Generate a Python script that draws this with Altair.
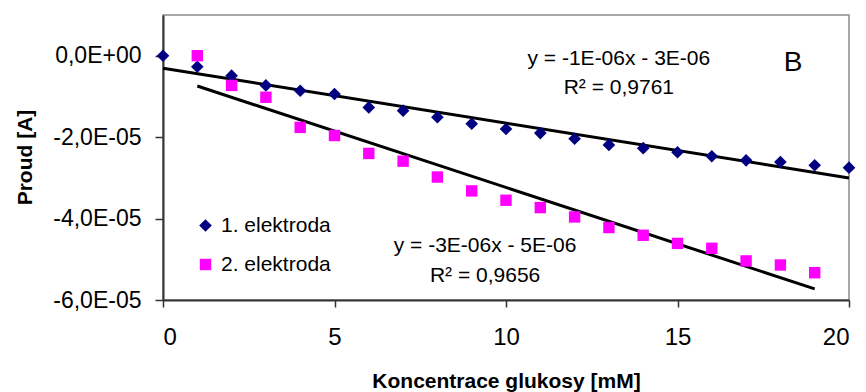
import altair as alt
import pandas as pd

# ---- data ----
conc_1 = list(range(0, 21))
proud_1 = [0.0, -2.7e-6, -4.9e-6, -7.3e-6, -8.6e-6, -9.4e-6, -12.7e-6, -13.5e-6,
           -15.1e-6, -16.7e-6, -18.0e-6, -19.0e-6, -20.4e-6, -21.9e-6, -22.7e-6,
           -23.7e-6, -24.7e-6, -25.7e-6, -26.1e-6, -26.9e-6, -27.5e-6]
conc_2 = list(range(1, 20))
proud_2 = [0.0, -7.3e-6, -10.2e-6, -17.6e-6, -19.6e-6, -24.0e-6, -25.9e-6, -29.8e-6,
           -33.2e-6, -35.5e-6, -37.3e-6, -39.6e-6, -42.2e-6, -44.1e-6, -46.1e-6,
           -47.3e-6, -50.4e-6, -51.4e-6, -53.3e-6]
series_names = ["1. elektroda", "2. elektroda"]
series_colors = ["#000080", "#FF00FF"]
series_shapes = ["diamond", "square"]

x_ticks = [0, 5, 10, 15, 20]
y_ticks = [0, -2e-5, -4e-5, -6e-5]
y_tick_labels = ["0,0E+00", "-2,0E-05", "-4,0E-05", "-6,0E-05"]

eq_texts = ["y = -1E-06x - 3E-06", "R² = 0,9761", "y = -3E-06x - 5E-06", "R² = 0,9656"]
eq_x = [13.29, 13.29, 9.39, 9.39]
eq_y = [-2.3e-6, -9.3e-6, -48.2e-6, -55.5e-6]
panel_label = "B"
panel_x = [18.37]
panel_y = [-3.7e-6]

FONT = "Liberation Sans"

df1 = pd.DataFrame({"x": conc_1, "y": proud_1, "s": series_names[0]})
df2 = pd.DataFrame({"x": conc_2, "y": proud_2, "s": series_names[1]})
df = pd.concat([df1, df2], ignore_index=True)

label_map = "{" + ",".join(
    f"'{round(v * 1e5)}':'{t}'" for v, t in zip(y_ticks, y_tick_labels)) + "}"
label_expr = f"{label_map}[''+round(datum.value*1e5)]"

xs = alt.Scale(domain=[0, 20], nice=False, zero=False)
ys = alt.Scale(domain=[-6e-5, 1e-5], nice=False, zero=False)

x_enc = alt.X("x:Q", scale=xs, axis=alt.Axis(
    values=x_ticks, title="Koncentrace glukosy [mM]", grid=False,
    tickSize=7, labelPadding=18, labelFontSize=24, labelFont=FONT,
    titleFont=FONT, titleFontSize=21, titleFontWeight="bold",
    titleY=87, titleBaseline="alphabetic"))
y_enc = alt.Y("y:Q", scale=ys, axis=alt.Axis(
    values=y_ticks, labelExpr=label_expr, title="Proud [A]", grid=False,
    tickSize=8, labelPadding=14, labelFontSize=23, labelFont=FONT,
    titleFont=FONT, titleFontSize=21, titleFontWeight="bold",
    titleX=-132, titleY=142, titleAngle=-90, titleAlign="center",
    titleBaseline="alphabetic"))

points = alt.Chart(df).mark_point(filled=True, opacity=1).encode(
    x=x_enc, y=y_enc,
    color=alt.Color("s:N", scale=alt.Scale(domain=series_names, range=series_colors),
                    legend=alt.Legend(title=None, orient="none", legendX=32, legendY=200,
                                      labelFontSize=21, labelFont=FONT, symbolSize=100,
                                      rowPadding=17, labelOffset=5, symbolStrokeWidth=0,
                                      padding=0)),
    shape=alt.Shape("s:N", scale=alt.Scale(domain=series_names, range=series_shapes)),
    size=alt.Size("s:N", scale=alt.Scale(domain=series_names, range=[160, 130]), legend=None),
)

trend1 = alt.Chart(df1).transform_regression("x", "y").mark_line(
    color="black", strokeWidth=3).encode(x=alt.X("x:Q", scale=xs), y=alt.Y("y:Q", scale=ys))
trend2 = alt.Chart(df2).transform_regression("x", "y").mark_line(
    color="black", strokeWidth=3).encode(x=alt.X("x:Q", scale=xs), y=alt.Y("y:Q", scale=ys))

ann_df = pd.DataFrame({"x": eq_x, "y": eq_y, "t": eq_texts})
ann = alt.Chart(ann_df).mark_text(font=FONT, fontSize=21, align="center",
                                  baseline="alphabetic", color="black").encode(
    x=alt.X("x:Q", scale=xs), y=alt.Y("y:Q", scale=ys), text="t:N")

pan_df = pd.DataFrame({"x": panel_x, "y": panel_y, "t": [panel_label]})
pan = alt.Chart(pan_df).mark_text(font=FONT, fontSize=28, align="center",
                                  baseline="alphabetic", color="black").encode(
    x=alt.X("x:Q", scale=xs), y=alt.Y("y:Q", scale=ys), text="t:N")

chart = alt.layer(trend1, trend2, points, ann, pan).properties(
    width=686, height=285,
    autosize=alt.AutoSizeParams(type="none"),
    padding={"left": 163, "top": 15, "right": 17, "bottom": 92},
    background="white",
).configure_view(stroke="#8c8c8c", strokeWidth=1.5).configure_axis(
    domainColor="#333333", domainWidth=2, tickColor="#333333", tickWidth=1.5,
    labelColor="black", titleColor="black")

chart.save("out.html", embed_options={"renderer": "svg", "actions": False})
